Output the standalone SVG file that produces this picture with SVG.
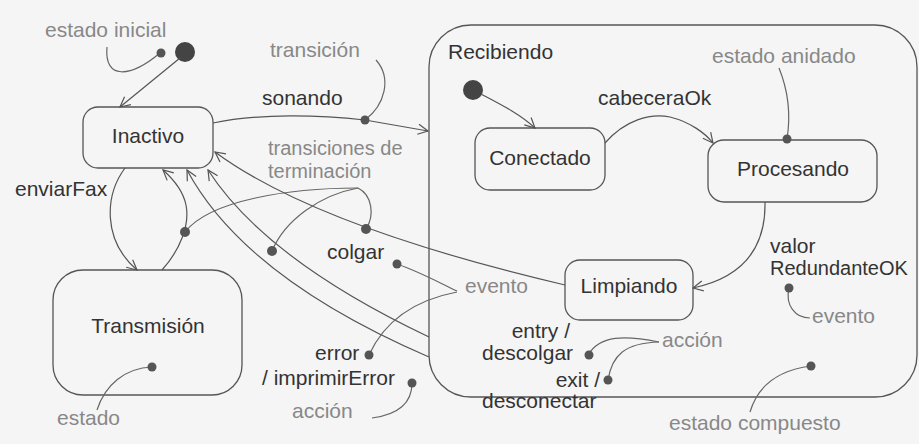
<svg xmlns="http://www.w3.org/2000/svg" width="919" height="444" viewBox="0 0 919 444">
<style>
  .st { fill: none; stroke: #555; stroke-width: 1.3; }
  .ln { fill: none; stroke: #555; stroke-width: 1.2; }
  .an { fill: none; stroke: #666; stroke-width: 1.2; }
  .dot { fill: #555; }
  .init { fill: #444; }
  .t { font-family: "Liberation Sans", Arial, sans-serif; font-size: 21px; fill: #333; }
  .g { font-family: "Liberation Sans", Arial, sans-serif; font-size: 21px; fill: #888; }
  .c { text-anchor: middle; }
</style>
<defs>
  <marker id="arrow" viewBox="0 0 12 12" refX="11" refY="6" markerWidth="12" markerHeight="12" markerUnits="userSpaceOnUse" orient="auto">
    <path d="M1,1 L11,6 L1,11" fill="none" stroke="#555" stroke-width="1.2"/>
  </marker>
</defs>
<rect x="0" y="0" width="919" height="444" fill="#f5f5f5"/>

<g id="initial-top">
  <circle class="init" cx="185" cy="52" r="10"/>
</g>
<g id="Inactivo">
  <rect class="st" x="83" y="107" width="130" height="61" rx="15"/>
  <text class="t c" x="148" y="143">Inactivo</text>
</g>
<g id="Transmision">
  <rect class="st" x="53" y="270" width="189" height="125" rx="30"/>
  <text class="t c" x="148" y="333">Transmisión</text>
</g>
<g id="Recibiendo">
  <rect class="st" x="429" y="25" width="488" height="372" rx="42"/>
  <text class="t" x="448" y="59">Recibiendo</text>
</g>
<g id="initial-inner">
  <circle class="init" cx="473" cy="90" r="10"/>
</g>
<g id="Conectado">
  <rect class="st" x="475" y="128" width="130" height="62" rx="15"/>
  <text class="t c" x="540" y="165">Conectado</text>
</g>
<g id="Procesando">
  <rect class="st" x="708" y="140" width="169" height="62" rx="16"/>
  <text class="t c" x="793" y="176">Procesando</text>
</g>
<g id="Limpiando">
  <rect class="st" x="565" y="260" width="128" height="60" rx="15"/>
  <text class="t c" x="629" y="293">Limpiando</text>
</g>

<g id="connectors">
  <path class="ln" d="M180,58 L120,107" marker-end="url(#arrow)"/>
  <path class="ln" d="M213,123 C260,113 320,115 365,120 L428,131" marker-end="url(#arrow)"/>
  <path class="ln" d="M125,168 C105,195 102,240 137,270" marker-end="url(#arrow)"/>
  <path class="ln" d="M162,270 C180,250 190,225 186,205 C183,190 172,178 163,170" marker-end="url(#arrow)"/>
  <path class="ln" d="M429,357 C320,310 230,250 187,170" marker-end="url(#arrow)"/>
  <path class="ln" d="M429,337 C330,290 250,235 208,170" marker-end="url(#arrow)"/>
  <path class="ln" d="M565,285 C450,258 300,215 215,152" marker-end="url(#arrow)"/>
  <path class="ln" d="M481,94 C500,104 520,114 535,128" marker-end="url(#arrow)"/>
  <path class="ln" d="M605,143 C625,120 650,113 670,117 C690,122 705,133 713,143" marker-end="url(#arrow)"/>
  <path class="ln" d="M765,202 C766,250 740,278 693,288" marker-end="url(#arrow)"/>
</g>

<g id="labels">
  <text class="t" x="262" y="105">sonando</text>
  <text class="t" x="15" y="196">enviarFax</text>
  <text class="t" x="598" y="105">cabeceraOk</text>
  <text class="t" x="327" y="259">colgar</text>
  <text class="t" x="315" y="360">error</text>
  <text class="t" x="262" y="385">/ imprimirError</text>
  <text class="t" x="770" y="253">valor</text>
  <text class="t" x="770" y="275" style="font-size:20px">RedundanteOK</text>
  <text class="t" x="570" y="338" text-anchor="end">entry /</text>
  <text class="t" x="482" y="360">descolgar</text>
  <text class="t" x="600" y="387" text-anchor="end">exit /</text>
  <text class="t" x="482" y="408">desconectar</text>
</g>

<g id="annotations">
  <text class="g" x="45" y="37">estado inicial</text>
  <text class="g" x="270" y="57">transición</text>
  <text class="g" x="268" y="155" style="font-size:20px">transiciones de</text>
  <text class="g" x="268" y="178" style="font-size:20px">terminación</text>
  <text class="g" x="712" y="63">estado anidado</text>
  <text class="g" x="465" y="293">evento</text>
  <text class="g" x="812" y="323">evento</text>
  <text class="g" x="662" y="347">acción</text>
  <text class="g" x="292" y="418">acción</text>
  <text class="g" x="57" y="425">estado</text>
  <text class="g" x="669" y="430">estado compuesto</text>

  <path class="an" d="M160,53 C130,78 104,80 107,47"/>
  <path class="an" d="M376,60 C392,78 385,105 365,120"/>
  <path class="an" d="M358,188 C290,188 210,200 185,232"/>
  <path class="an" d="M358,188 C320,195 285,220 272,251"/>
  <path class="an" d="M358,188 C372,195 375,215 366,229"/>
  <path class="an" d="M779,68 C790,95 790,120 787,139"/>
  <path class="an" d="M397,264 C420,272 440,283 457,291"/>
  <path class="an" d="M369,355 C385,320 415,300 457,292"/>
  <path class="an" d="M789,288 C785,305 795,318 810,318"/>
  <path class="an" d="M588,355 C600,335 625,335 659,342"/>
  <path class="an" d="M608,380 C612,355 625,343 659,342"/>
  <path class="an" d="M372,418 C395,415 412,405 412,383"/>
  <path class="an" d="M152,367 C125,368 105,385 97,410"/>
  <path class="an" d="M750,412 C758,385 780,370 811,366"/>

  <circle class="dot" cx="161" cy="53" r="4.5"/>
  <circle class="dot" cx="365" cy="120" r="4.5"/>
  <circle class="dot" cx="185" cy="232" r="5"/>
  <circle class="dot" cx="272" cy="251" r="5"/>
  <circle class="dot" cx="366" cy="229" r="5"/>
  <circle class="dot" cx="787" cy="139" r="4.5"/>
  <circle class="dot" cx="397" cy="264" r="4.5"/>
  <circle class="dot" cx="369" cy="355" r="4.5"/>
  <circle class="dot" cx="412" cy="383" r="4.5"/>
  <circle class="dot" cx="589" cy="355" r="4.5"/>
  <circle class="dot" cx="608" cy="380" r="4.5"/>
  <circle class="dot" cx="789" cy="288" r="4.5"/>
  <circle class="dot" cx="811" cy="366" r="4.5"/>
  <circle class="dot" cx="152" cy="367" r="4.5"/>
</g>
</svg>
